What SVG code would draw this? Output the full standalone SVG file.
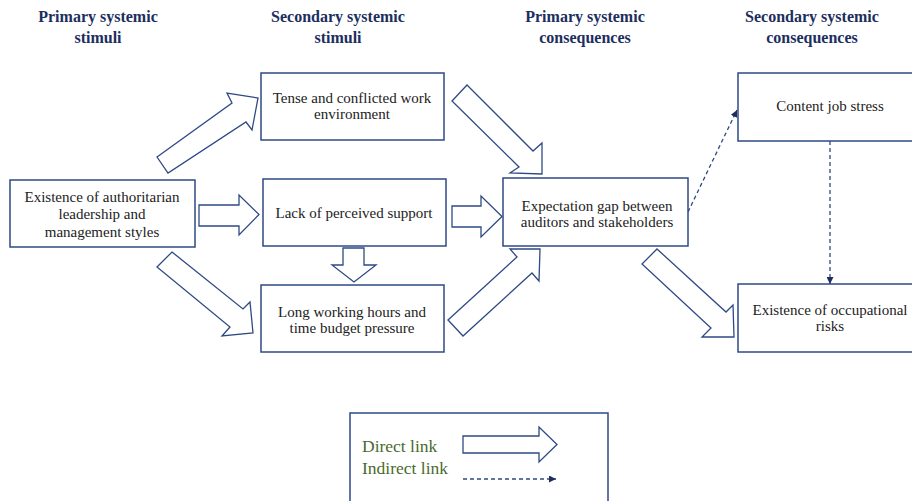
<svg xmlns="http://www.w3.org/2000/svg" width="912" height="501" viewBox="0 0 912 501">
<style>
.hd{font-family:"Liberation Serif","DejaVu Serif",serif;font-weight:bold;font-size:16px;fill:#1c2e5e;text-anchor:middle}
.bx{fill:#fff;stroke:#2e4a84;stroke-width:1.5}
.tx{font-family:"Liberation Serif","DejaVu Serif",serif;font-size:15px;fill:#222;text-anchor:middle}
.ar{fill:#fff;stroke:#2e4a84;stroke-width:1.3;stroke-linejoin:miter}
.dl{fill:none;stroke:#2e4a84;stroke-width:1.3;stroke-dasharray:4,3}
.lg{font-family:"Liberation Serif","DejaVu Serif",serif;font-size:17.5px;fill:#4a6a2e}
</style>
<defs>
<marker id="tri" viewBox="0 0 10 10" refX="10" refY="5" markerWidth="7" markerHeight="7" orient="auto" markerUnits="userSpaceOnUse">
<path d="M0,0 L10,5 L0,10 z" fill="#1c2e5e"/>
</marker>
</defs>
<rect width="912" height="501" fill="#fff"/>
<g id="headers">
<text class="hd" x="98" y="22">Primary systemic</text>
<text class="hd" x="98" y="43">stimuli</text>
<text class="hd" x="338" y="22">Secondary systemic</text>
<text class="hd" x="338" y="43">stimuli</text>
<text class="hd" x="585" y="22">Primary systemic</text>
<text class="hd" x="585" y="43">consequences</text>
<text class="hd" x="812" y="22">Secondary systemic</text>
<text class="hd" x="812" y="43">consequences</text>
</g>
<g id="connectors">
<polygon class="ar" points="199,205 239,205 239,195 259,214.5 239,235 239,226 199,226"/>
<polygon class="ar" points="452,206 481,206 481,196 502,216.5 481,237 481,227 452,227"/>
<polygon class="ar" points="343,248 364,248 364,265 376,265 354,282 332,265 343,265"/>
<polygon class="ar" points="157,157 232,103 227,93 258,98 252,130 246,122 168,173"/>
<polygon class="ar" points="172,252 243,309 250,302 253,333 222,336 230,327 157,267"/>
<polygon class="ar" points="467,85 533,151 542,143 542,174 510,173 519,167 452,101"/>
<polygon class="ar" points="448,320 517,257 510,249 540,249 539,281 532,273 463,336"/>
<polygon class="ar" points="657,249 726,312 733,305 734,337 702,337 711,328 642,264"/>
<line class="dl" x1="688" y1="212" x2="737" y2="110" marker-end="url(#tri)"/>
<line class="dl" x1="830" y1="141" x2="830" y2="284" marker-end="url(#tri)"/>
</g>
<g id="n-existence">
<rect class="bx" x="10" y="180" width="185" height="67"/>
<text class="tx" x="102" y="202">Existence of authoritarian</text>
<text class="tx" x="102" y="219">leadership and</text>
<text class="tx" x="102" y="237">management styles</text>
</g>
<g id="n-tense">
<rect class="bx" x="261" y="73" width="183" height="67"/>
<text class="tx" x="352" y="103">Tense and conflicted work</text>
<text class="tx" x="352" y="119">environment</text>
</g>
<g id="n-lack">
<rect class="bx" x="263" y="179" width="183" height="67"/>
<text class="tx" x="354" y="218">Lack of perceived support</text>
</g>
<g id="n-long">
<rect class="bx" x="261" y="285" width="183" height="67"/>
<text class="tx" x="352" y="317">Long working hours and</text>
<text class="tx" x="352" y="333">time budget pressure</text>
</g>
<g id="n-expectation">
<rect class="bx" x="503" y="178" width="185" height="68"/>
<text class="tx" x="597" y="211">Expectation gap between</text>
<text class="tx" x="597" y="227">auditors and stakeholders</text>
</g>
<g id="n-content">
<rect class="bx" x="738" y="73" width="180" height="68"/>
<text class="tx" x="830" y="111">Content job stress</text>
</g>
<g id="n-occupational">
<rect class="bx" x="738" y="284" width="180" height="68"/>
<text class="tx" x="830" y="315">Existence of occupational</text>
<text class="tx" x="830" y="331">risks</text>
</g>
<g id="legend">
<rect class="bx" x="350" y="413" width="258" height="100"/>
<text class="lg" x="362" y="452">Direct link</text>
<text class="lg" x="362" y="474">Indirect link</text>
<polygon class="ar" points="463,436 539,436 539,427 557,444.5 539,462 539,453 463,453"/>
<line class="dl" x1="463" y1="479" x2="556" y2="479" marker-end="url(#tri)"/>
</g>
</svg>
